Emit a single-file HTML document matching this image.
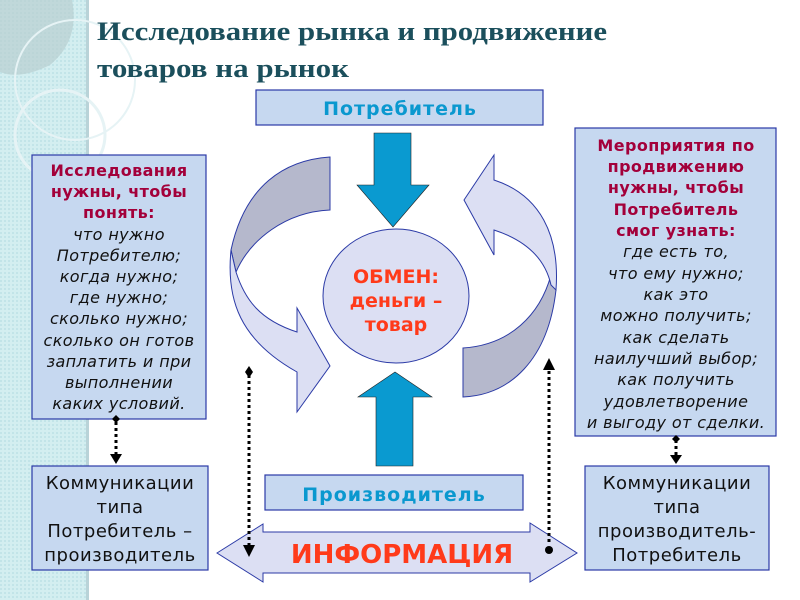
<!DOCTYPE html>
<html><head><meta charset="utf-8"><style>
html,body{margin:0;padding:0;background:#fff}
svg{display:block}
.t{font-family:"DejaVu Sans","Liberation Sans",sans-serif}
</style></head><body>
<svg width="800" height="600" viewBox="0 0 800 600" xmlns="http://www.w3.org/2000/svg">
<defs>
<pattern id="dots" width="4" height="4" patternUnits="userSpaceOnUse">
<rect width="4" height="4" fill="#d3eef0"/><rect width="2" height="2" fill="#c2e4e8"/>
</pattern>
</defs>
<rect x="0" y="0" width="88" height="600" fill="url(#dots)"/>
<rect x="86" y="0" width="3" height="600" fill="#b9d3d8"/>
<path d="M0,0 H72 Q80,40 50,65 Q20,80 0,72 Z" fill="#b8cfd0" opacity="0.7"/>
<circle cx="60" cy="135" r="45" fill="none" stroke="#e6f3f5" stroke-width="3"/>
<circle cx="75" cy="80" r="60" fill="none" stroke="#e6f3f5" stroke-width="2"/>

<text x="97" y="40" font-family="Liberation Serif,serif" font-weight="bold" font-size="26" fill="#1b4f5c" textLength="510" lengthAdjust="spacingAndGlyphs">Исследование рынка и продвижение</text>
<text x="97" y="77" font-family="Liberation Serif,serif" font-weight="bold" font-size="26" fill="#1b4f5c" textLength="252" lengthAdjust="spacingAndGlyphs">товаров на рынок</text>

<rect x="256" y="90" width="287" height="35" fill="#c6d8f0" stroke="#2b3aa6" stroke-width="1.2"/>
<text class="t" x="400" y="115" text-anchor="middle" font-weight="bold" font-size="19" fill="#0a98cf" letter-spacing="1">Потребитель</text>

<path d="M330,157 C285,160 245,185 231,250 L236,272 C250,240 285,212 330,210 Z" fill="#b5b8cc" stroke="#2b3aa6" stroke-width="1"/>
<path d="M231,250 C226,300 240,340 297,372 L297,412 L330,366 L297,308 L297,332 C260,320 245,300 236,272 Z" fill="#dcdff3" stroke="#2b3aa6" stroke-width="1"/>
<path d="M463,397 C510,395 548,360 556,290 L551,275 C540,315 510,345 463,348 Z" fill="#b5b8cc" stroke="#2b3aa6" stroke-width="1"/>
<path d="M556,290 C560,235 540,195 494,180 L494,155 L464,200 L494,255 L494,230 C525,240 545,258 551,285 Z" fill="#dcdff3" stroke="#2b3aa6" stroke-width="1"/>

<path d="M374,133 H411 V185 H429 L393,227 L357,185 H374 Z" fill="#0a9ad0" stroke="#222" stroke-width="0.6"/>
<ellipse cx="396" cy="296" rx="73" ry="67" fill="#dcdff3" stroke="#2b3aa6" stroke-width="1"/>
<text class="t" x="396" y="283" text-anchor="middle" font-weight="bold" font-size="19" fill="#ff3a1a">ОБМЕН:</text>
<text class="t" x="396" y="307" text-anchor="middle" font-weight="bold" font-size="19" fill="#ff3a1a">деньги –</text>
<text class="t" x="396" y="331" text-anchor="middle" font-weight="bold" font-size="19" fill="#ff3a1a">товар</text>
<path d="M376,466 V397 H358 L395,372 L432,397 H413 V466 Z" fill="#0a9ad0" stroke="#222" stroke-width="0.6"/>

<rect x="265" y="475" width="258" height="35" fill="#c6d8f0" stroke="#2b3aa6" stroke-width="1.2"/>
<text class="t" x="394" y="501" text-anchor="middle" font-weight="bold" font-size="19" fill="#0a98cf" letter-spacing="1">Производитель</text>

<path d="M217,553 L263,524 V532 H530 V523 L577,553 L530,582 V573 H263 V582 Z" fill="#dcdff3" stroke="#2b3aa6" stroke-width="1"/>
<text class="t" x="402" y="563" text-anchor="middle" font-weight="bold" font-size="26" fill="#ff3a1a">ИНФОРМАЦИЯ</text>

<rect x="32" y="155" width="174" height="264" fill="#c6d8f0" stroke="#2b3aa6" stroke-width="1.2"/>
<g class="t" font-size="16" text-anchor="middle" letter-spacing="0.4">
<g font-weight="bold" fill="#a3003a">
<text x="119" y="176">Исследования</text>
<text x="119" y="197">нужны, чтобы</text>
<text x="119" y="218">понять:</text>
</g>
<g font-style="italic" fill="#111">
<text x="119" y="240">что нужно</text>
<text x="119" y="261">Потребителю;</text>
<text x="119" y="282">когда нужно;</text>
<text x="119" y="303">где нужно;</text>
<text x="119" y="324">сколько нужно;</text>
<text x="119" y="346">сколько он готов</text>
<text x="119" y="367">заплатить и при</text>
<text x="119" y="388">выполнении</text>
<text x="119" y="409">каких условий.</text>
</g>
</g>

<rect x="575" y="128" width="201" height="308" fill="#c6d8f0" stroke="#2b3aa6" stroke-width="1.2"/>
<g class="t" font-size="16" text-anchor="middle" letter-spacing="0.4">
<g font-weight="bold" fill="#a3003a">
<text x="676" y="151">Мероприятия по</text>
<text x="676" y="172">продвижению</text>
<text x="676" y="193">нужны, чтобы</text>
<text x="676" y="215">Потребитель</text>
<text x="676" y="236">смог узнать:</text>
</g>
<g font-style="italic" fill="#111">
<text x="676" y="257">где есть то,</text>
<text x="676" y="279">что ему нужно;</text>
<text x="676" y="300">как это</text>
<text x="676" y="321">можно получить;</text>
<text x="676" y="343">как сделать</text>
<text x="676" y="364">наилучший выбор;</text>
<text x="676" y="385">как получить</text>
<text x="676" y="407">удовлетворение</text>
<text x="676" y="428">и выгоду от сделки.</text>
</g>
</g>

<rect x="32" y="466" width="176" height="104" fill="#c6d8f0" stroke="#2b3aa6" stroke-width="1.2"/>
<g class="t" font-size="18" text-anchor="middle" fill="#111" letter-spacing="0.5">
<text x="120" y="489">Коммуникации</text>
<text x="120" y="513">типа</text>
<text x="120" y="537">Потребитель –</text>
<text x="120" y="561">производитель</text>
</g>
<rect x="585" y="466" width="184" height="104" fill="#c6d8f0" stroke="#2b3aa6" stroke-width="1.2"/>
<g class="t" font-size="18" text-anchor="middle" fill="#111" letter-spacing="0.5">
<text x="677" y="489">Коммуникации</text>
<text x="677" y="513">типа</text>
<text x="677" y="537">производитель-</text>
<text x="677" y="561">Потребитель</text>
</g>

<g stroke="#000" stroke-width="3" stroke-dasharray="3,3" fill="none">
<line x1="116" y1="422" x2="116" y2="455"/>
<line x1="249" y1="375" x2="249" y2="545"/>
<line x1="549" y1="365" x2="549" y2="545"/>
<line x1="676" y1="440" x2="676" y2="456"/>
</g>
<g fill="#000">
<path d="M112,419 L116,415 L120,419 L116,423 Z"/>
<path d="M110,454 H122 L116,464 Z"/>
<path d="M243,545 H255 L249,557 Z"/>
<path d="M245,372 L249,366 L253,372 L249,378 Z"/>
<path d="M543,370 H555 L549,358 Z"/>
<circle cx="549" cy="550" r="4"/>
<path d="M672,439 L676,435 L680,439 L676,443 Z"/>
<path d="M670,455 H682 L676,464 Z"/>
</g>
</svg>
</body></html>
